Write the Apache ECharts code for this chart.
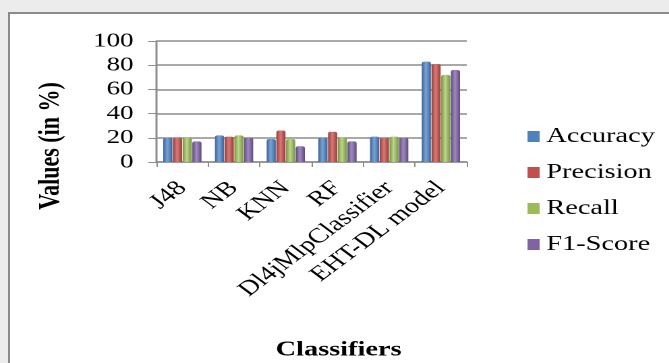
<!DOCTYPE html>
<html>
<head>
<meta charset="utf-8">
<script src="https://cdn.jsdelivr.net/npm/echarts@6/dist/echarts.min.js"></script>
<style>
  html, body { margin: 0; padding: 0; background: #ececec; overflow: hidden; }
  #frame {
    position: absolute; left: 8px; top: 12px; width: 700px; height: 400px;
    background: #fff; border: 2px solid #8a8a8a;
  }
  /* the source figure is stretched horizontally, so the chart is drawn narrow and widened */
  #main {
    position: absolute; left: 0; top: 0; width: 496px; height: 363px;
    transform: scaleX(1.349); transform-origin: 0 0;
  }
</style>
</head>
<body>
<div id="frame"></div>
<div id="main"></div>
<script>
const categories = ['J48', 'NB', 'KNN', 'RF', 'Dl4jMlpClassifier', 'EHT-DL model']
const accuracy = [20, 22, 19, 20, 21, 83]
const precision = [20, 21, 26, 25, 20, 81]
const recall = [20, 22, 19, 20, 21, 72]
const f1Score = [17, 20, 13, 17, 20, 76]
const yTicks = [0, 20, 40, 60, 80, 100]

const serif = '"Liberation Serif", "DejaVu Serif", serif'

// cylinder look: dark edges, light middle
const cyl = (dark, light) => ({
  type: 'linear', x: 0, y: 0, x2: 1, y2: 0,
  colorStops: [
    { offset: 0, color: dark },
    { offset: 0.45, color: light },
    { offset: 1, color: dark },
  ],
})

const makeSeries = (name, data, dark, light) => ({
  name,
  type: 'bar',
  data,
  barGap: '6%',
  barCategoryGap: '26%',
  itemStyle: { color: cyl(dark, light), borderRadius: [2, 2, 0, 0] },
})

const chart = echarts.init(document.getElementById('main'), null, { devicePixelRatio: 2 })
const option = {
  animation: false,
  color: ['#4f81bd', '#c0504d', '#9bbb59', '#8064a2'],
  grid: { left: 116, right: 150, top: 41, bottom: 201 },
  legend: {
    orient: 'vertical',
    left: 386,
    top: 121,
    itemWidth: 9,
    itemHeight: 11,
    itemGap: 15,
    icon: 'rect',
    textStyle: { fontFamily: serif, fontSize: 21, color: '#000' },
    data: [
      { name: 'Accuracy', itemStyle: { color: '#4f81bd' } },
      { name: 'Precision', itemStyle: { color: '#c0504d' } },
      { name: 'Recall', itemStyle: { color: '#9bbb59' } },
      { name: 'F1-Score', itemStyle: { color: '#8064a2' } },
    ],
  },
  xAxis: {
    type: 'category',
    data: categories,
    axisLine: { lineStyle: { color: '#8c8c8c', width: 1.5 } },
    axisTick: { show: true, length: 5, lineStyle: { color: '#8c8c8c' } },
    axisLabel: {
      rotate: 45,
      interval: 0,
      margin: 23,
      fontFamily: serif,
      fontSize: 21,
      color: '#000',
    },
  },
  yAxis: {
    type: 'value',
    min: yTicks[0],
    max: yTicks[yTicks.length - 1],
    interval: 20,
    axisLine: { show: true, lineStyle: { color: '#8c8c8c', width: 1.5 } },
    axisTick: { show: true, length: 6, lineStyle: { color: '#8c8c8c' } },
    axisLabel: { fontFamily: serif, fontSize: 20, color: '#000', margin: 17 },
    splitLine: { lineStyle: { color: '#8c8c8c', width: 1.5 } },
  },
  graphic: [
    {
      type: 'text',
      x: 38,
      y: 146,
      rotation: Math.PI / 2,
      style: {
        text: 'Values (in %)',
        fontFamily: serif,
        fontSize: 22,
        fontWeight: 'bold',
        fill: '#000',
        align: 'center',
        verticalAlign: 'middle',
      },
    },
    {
      type: 'text',
      x: 251,
      y: 350,
      style: {
        text: 'Classifiers',
        fontFamily: serif,
        fontSize: 21,
        fontWeight: 'bold',
        fill: '#000',
        align: 'center',
        verticalAlign: 'middle',
      },
    },
  ],
  series: [
    makeSeries('Accuracy', accuracy, '#3a6498', '#7aa3d6'),
    makeSeries('Precision', precision, '#963b39', '#d97a77'),
    makeSeries('Recall', recall, '#77923f', '#bcd68a'),
    makeSeries('F1-Score', f1Score, '#5f4a7c', '#a189c2'),
  ],
}
chart.setOption(option)
</script>
</body>
</html>
